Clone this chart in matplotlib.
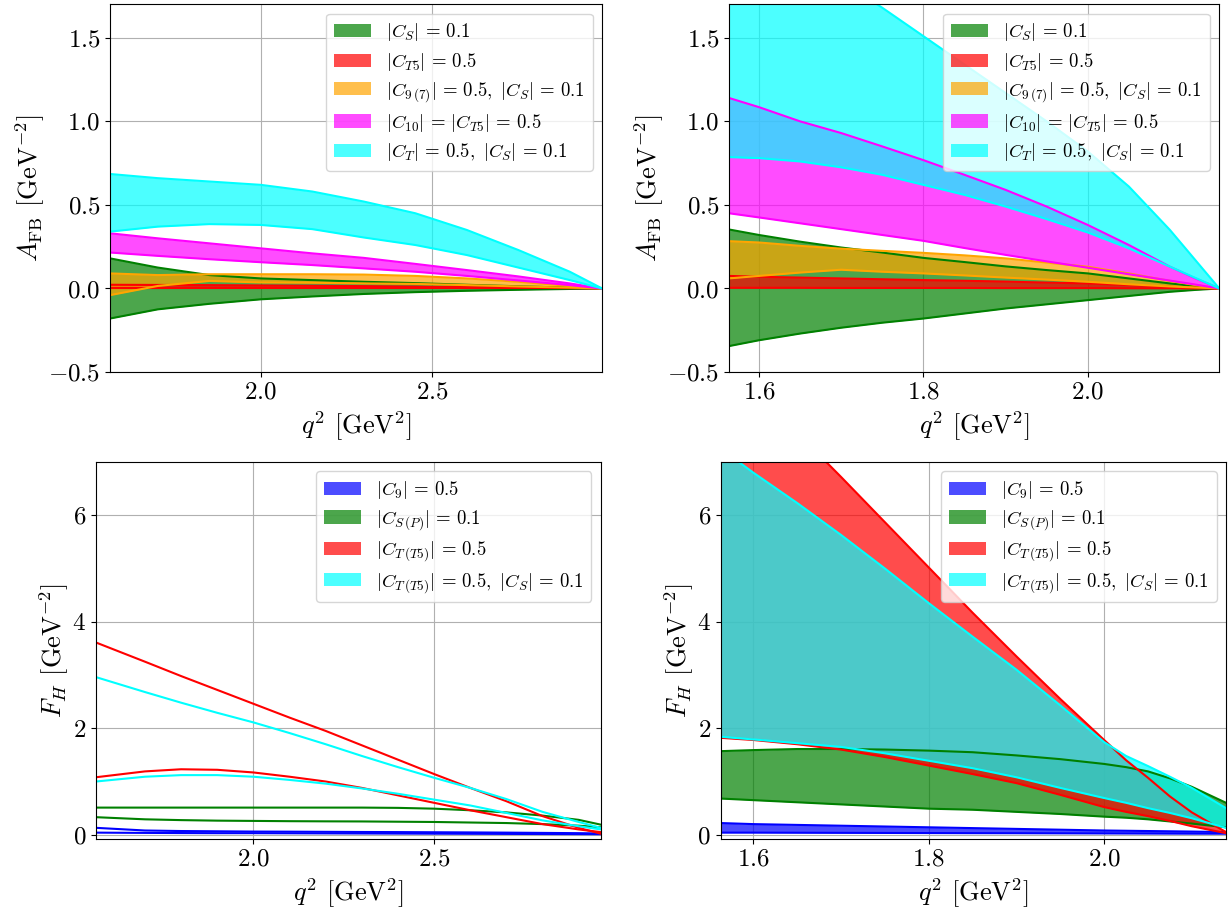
import matplotlib
matplotlib.use("Agg")
import matplotlib.pyplot as plt
from matplotlib.patches import Patch

plt.rcParams.update({
    "font.family": "serif",
    "font.serif": ["cmr10"],
    "mathtext.fontset": "cm",
    "axes.formatter.use_mathtext": True,
})

# ---- A_FB, wide q^2 range (top left) ----
q_tl = [1.561, 1.7, 1.85, 2.0, 2.15, 2.3, 2.45, 2.6, 2.75, 2.9, 2.994]
tl_s_lo = [-0.18, -0.125, -0.092, -0.065, -0.048, -0.033, -0.022, -0.014, -0.008, -0.003, 0.0]
tl_s_hi = [0.18, 0.125, 0.08, 0.06, 0.05, 0.04, 0.032, 0.022, 0.013, 0.005, 0.0]
tl_t5_lo = [0.0, 0.0, 0.0, 0.0, 0.0, 0.0, 0.0, 0.0, 0.0, 0.0, 0.0]
tl_t5_hi = [0.022, 0.021, 0.02, 0.018, 0.016, 0.014, 0.011, 0.008, 0.005, 0.002, 0.0]
tl_97_lo = [-0.04, 0.015, 0.045, 0.036, 0.034, 0.03, 0.027, 0.02, 0.012, 0.005, 0.0]
tl_97_hi = [0.09, 0.08, 0.085, 0.085, 0.085, 0.083, 0.075, 0.06, 0.04, 0.015, 0.0]
tl_10_lo = [0.215, 0.195, 0.175, 0.157, 0.14, 0.12, 0.1, 0.075, 0.048, 0.02, 0.0]
tl_10_hi = [0.33, 0.30, 0.27, 0.24, 0.21, 0.183, 0.147, 0.11, 0.072, 0.03, 0.0]
tl_ts_lo = [0.34, 0.37, 0.385, 0.38, 0.355, 0.305, 0.26, 0.2, 0.125, 0.05, 0.0]
tl_ts_hi = [0.685, 0.66, 0.64, 0.62, 0.58, 0.52, 0.45, 0.35, 0.23, 0.10, 0.0]

# ---- A_FB, narrow q^2 range (top right) ----
q_tr = [1.5635, 1.6, 1.65, 1.7, 1.75, 1.8, 1.85, 1.9, 1.95, 2.0, 2.05, 2.1, 2.13, 2.16]
tr_s_lo = [-0.345, -0.31, -0.27, -0.235, -0.205, -0.18, -0.15, -0.12, -0.095, -0.07, -0.045, -0.02, -0.009, 0.0]
tr_s_hi = [0.353, 0.32, 0.28, 0.245, 0.215, 0.183, 0.158, 0.132, 0.11, 0.09, 0.06, 0.03, 0.014, 0.0]
tr_t5_lo = [0.004, 0.004, 0.004, 0.003, 0.003, 0.003, 0.003, 0.002, 0.002, 0.002, 0.001, 0.001, 0.0, 0.0]
tr_t5_hi = [0.075, 0.07, 0.065, 0.06, 0.055, 0.05, 0.046, 0.041, 0.035, 0.03, 0.02, 0.01, 0.005, 0.0]
tr_97_lo = [0.06, 0.075, 0.095, 0.112, 0.1, 0.09, 0.078, 0.065, 0.053, 0.04, 0.025, 0.012, 0.006, 0.0]
tr_97_hi = [0.283, 0.275, 0.255, 0.238, 0.225, 0.213, 0.198, 0.18, 0.155, 0.13, 0.09, 0.045, 0.021, 0.0]
tr_10_lo = [0.45, 0.425, 0.39, 0.355, 0.32, 0.285, 0.242, 0.201, 0.162, 0.124, 0.085, 0.047, 0.024, 0.0]
tr_10_hi = [1.14, 1.085, 1.0, 0.93, 0.85, 0.768, 0.68, 0.59, 0.49, 0.38, 0.26, 0.13, 0.062, 0.0]
tr_ts_lo = [0.786, 0.78, 0.76, 0.725, 0.68, 0.62, 0.56, 0.49, 0.415, 0.335, 0.24, 0.13, 0.065, 0.0]
tr_ts_hi = [2.25, 2.14, 1.99, 1.84, 1.68, 1.51, 1.34, 1.17, 1.0, 0.82, 0.61, 0.35, 0.175, 0.0]

# ---- F_H, wide q^2 range (bottom left) ----
q_bl = [1.5646, 1.7, 1.8, 1.9, 2.0, 2.1, 2.2, 2.3, 2.4, 2.5, 2.6, 2.7, 2.8, 2.9, 2.961]
bl_9_lo = [0.04, 0.035, 0.032, 0.03, 0.03, 0.028, 0.026, 0.024, 0.022, 0.02, 0.018, 0.016, 0.014, 0.012, 0.01]
bl_9_hi = [0.13, 0.08, 0.07, 0.065, 0.06, 0.058, 0.055, 0.052, 0.05, 0.047, 0.044, 0.04, 0.035, 0.03, 0.025]
bl_sp_lo = [0.33, 0.29, 0.275, 0.265, 0.26, 0.255, 0.252, 0.25, 0.245, 0.24, 0.23, 0.22, 0.2, 0.17, 0.14]
bl_sp_hi = [0.51, 0.51, 0.51, 0.51, 0.51, 0.51, 0.51, 0.51, 0.505, 0.49, 0.46, 0.42, 0.36, 0.28, 0.19]
bl_t_lo = [1.08, 1.19, 1.23, 1.22, 1.17, 1.09, 1.0, 0.88, 0.74, 0.6, 0.46, 0.33, 0.2, 0.1, 0.05]
bl_t_hi = [3.61, 3.25, 2.98, 2.72, 2.46, 2.2, 1.95, 1.68, 1.41, 1.14, 0.88, 0.63, 0.35, 0.13, 0.02]
bl_ts_lo = [1.0, 1.09, 1.12, 1.12, 1.09, 1.03, 0.96, 0.87, 0.77, 0.66, 0.55, 0.41, 0.27, 0.16, 0.1]
bl_ts_hi = [2.96, 2.68, 2.48, 2.29, 2.11, 1.91, 1.70, 1.48, 1.27, 1.07, 0.88, 0.67, 0.43, 0.24, 0.13]

# ---- F_H, narrow q^2 range (bottom right) ----
q_br = [1.5628, 1.6, 1.65, 1.7, 1.75, 1.8, 1.85, 1.9, 1.95, 2.0, 2.025, 2.05, 2.075, 2.1, 2.139]
br_9_lo = [0.04, 0.04, 0.038, 0.036, 0.034, 0.032, 0.03, 0.029, 0.027, 0.025, 0.024, 0.023, 0.022, 0.021, 0.02]
br_9_hi = [0.22, 0.2, 0.185, 0.17, 0.155, 0.14, 0.125, 0.11, 0.095, 0.08, 0.075, 0.07, 0.065, 0.06, 0.05]
br_sp_lo = [0.68, 0.65, 0.61, 0.57, 0.53, 0.49, 0.47, 0.43, 0.39, 0.34, 0.32, 0.29, 0.25, 0.21, 0.14]
br_sp_hi = [1.57, 1.59, 1.61, 1.61, 1.60, 1.58, 1.55, 1.49, 1.42, 1.33, 1.27, 1.19, 1.06, 0.9, 0.6]
br_t_lo = [1.82, 1.78, 1.70, 1.60, 1.46, 1.30, 1.14, 0.97, 0.75, 0.52, 0.43, 0.35, 0.26, 0.16, 0.03]
br_t_hi = [9.0, 8.4, 7.55, 6.72, 5.87, 5.02, 4.17, 3.35, 2.55, 1.78, 1.40, 1.07, 0.72, 0.42, 0.05]
br_ts_lo = [1.84, 1.79, 1.72, 1.65, 1.53, 1.39, 1.25, 1.08, 0.88, 0.69, 0.6, 0.5, 0.41, 0.31, 0.13]
br_ts_hi = [7.25, 6.8, 6.23, 5.63, 5.0, 4.35, 3.72, 3.1, 2.43, 1.74, 1.48, 1.29, 1.09, 0.88, 0.5]

afb_labels = [r"$|C_S|\,=\,0.1$", r"$|C_{T5}|\,=\,0.5$",
              r"$|C_{9\,(7)}|\,=\,0.5,\ |C_S|\,=\,0.1$",
              r"$|C_{10}|\,=\,|C_{T5}|\,=\,0.5$",
              r"$|C_T|\,=\,0.5,\ |C_S|\,=\,0.1$"]
afb_colors = ["green", "red", "orange", "magenta", "cyan"]
fh_labels = [r"$|C_9|\,=\,0.5$", r"$|C_{S\,(P)}|\,=\,0.1$",
             r"$|C_{T\,(T5)}|\,=\,0.5$",
             r"$|C_{T\,(T5)}|\,=\,0.5,\ |C_S|\,=\,0.1$"]
fh_colors = ["blue", "green", "red", "cyan"]


def band(ax, q, lo, hi, color, label, fill=True):
    if fill:
        ax.fill_between(q, lo, hi, color=color, alpha=0.7, lw=0, label=label, zorder=1)
    ax.plot(q, lo, color=color, lw=1.5, zorder=2)
    ax.plot(q, hi, color=color, lw=1.5, zorder=2)


def style(ax, ylabel):
    ax.grid(True, color="#b0b0b0", lw=0.8)
    ax.set_axisbelow(True)
    ax.set_xlabel(r"$q^2$ [GeV$^2$]", fontsize=19)
    ax.set_ylabel(ylabel, fontsize=19, labelpad=1)
    ax.tick_params(labelsize=18)


def add_legend(ax, handles=None):
    kw = dict(loc="upper right", fontsize=13.5, labelspacing=0.4)
    if handles is None:
        ax.legend(**kw)
    else:
        ax.legend(handles=handles, **kw)


fig = plt.figure(figsize=(12.28, 9.10), dpi=100)

ax1 = fig.add_axes([0.0896, 0.5912, 0.4007, 0.4040])
bands = [(tl_s_lo, tl_s_hi), (tl_t5_lo, tl_t5_hi), (tl_97_lo, tl_97_hi),
         (tl_10_lo, tl_10_hi), (tl_ts_lo, tl_ts_hi)]
for (lo, hi), c, lab in zip(bands, afb_colors, afb_labels):
    band(ax1, q_tl, lo, hi, c, lab)
ax1.set_xlim(1.561, 2.994)
ax1.set_ylim(-0.5, 1.7)
ax1.set_xticks([2.0, 2.5])
ax1.set_yticks([-0.5, 0.0, 0.5, 1.0, 1.5])
style(ax1, r"$A_{\rm FB}$ [GeV$^{-2}$]")
add_legend(ax1)

ax2 = fig.add_axes([0.5936, 0.5912, 0.3993, 0.4040])
bands = [(tr_s_lo, tr_s_hi), (tr_t5_lo, tr_t5_hi), (tr_97_lo, tr_97_hi),
         (tr_10_lo, tr_10_hi), (tr_ts_lo, tr_ts_hi)]
for (lo, hi), c, lab in zip(bands, afb_colors, afb_labels):
    band(ax2, q_tr, lo, hi, c, lab)
ax2.set_xlim(1.5635, 2.16)
ax2.set_ylim(-0.5, 1.7)
ax2.set_xticks([1.6, 1.8, 2.0])
ax2.set_yticks([-0.5, 0.0, 0.5, 1.0, 1.5])
style(ax2, r"$A_{\rm FB}$ [GeV$^{-2}$]")
add_legend(ax2)

ax3 = fig.add_axes([0.0782, 0.0780, 0.4110, 0.4143])
bands = [(bl_9_lo, bl_9_hi), (bl_sp_lo, bl_sp_hi), (bl_t_lo, bl_t_hi), (bl_ts_lo, bl_ts_hi)]
for (lo, hi), c, lab in zip(bands, fh_colors, fh_labels):
    band(ax3, q_bl, lo, hi, c, lab, fill=False)
ax3.set_xlim(1.5646, 2.961)
ax3.set_ylim(-0.08, 7.0)
ax3.set_xticks([2.0, 2.5])
ax3.set_yticks([0, 2, 4, 6])
style(ax3, r"$F_H$ [GeV$^{-2}$]")
add_legend(ax3, [Patch(color=c, alpha=0.7, lw=0, label=lab)
                 for c, lab in zip(fh_colors, fh_labels)])

ax4 = fig.add_axes([0.5869, 0.0780, 0.4115, 0.4143])
bands = [(br_9_lo, br_9_hi), (br_sp_lo, br_sp_hi), (br_t_lo, br_t_hi), (br_ts_lo, br_ts_hi)]
for (lo, hi), c, lab in zip(bands, fh_colors, fh_labels):
    band(ax4, q_br, lo, hi, c, lab)
ax4.set_xlim(1.5628, 2.139)
ax4.set_ylim(-0.08, 7.0)
ax4.set_xticks([1.6, 1.8, 2.0])
ax4.set_yticks([0, 2, 4, 6])
style(ax4, r"$F_H$ [GeV$^{-2}$]")
add_legend(ax4)

fig.savefig("out.png", dpi=100)
